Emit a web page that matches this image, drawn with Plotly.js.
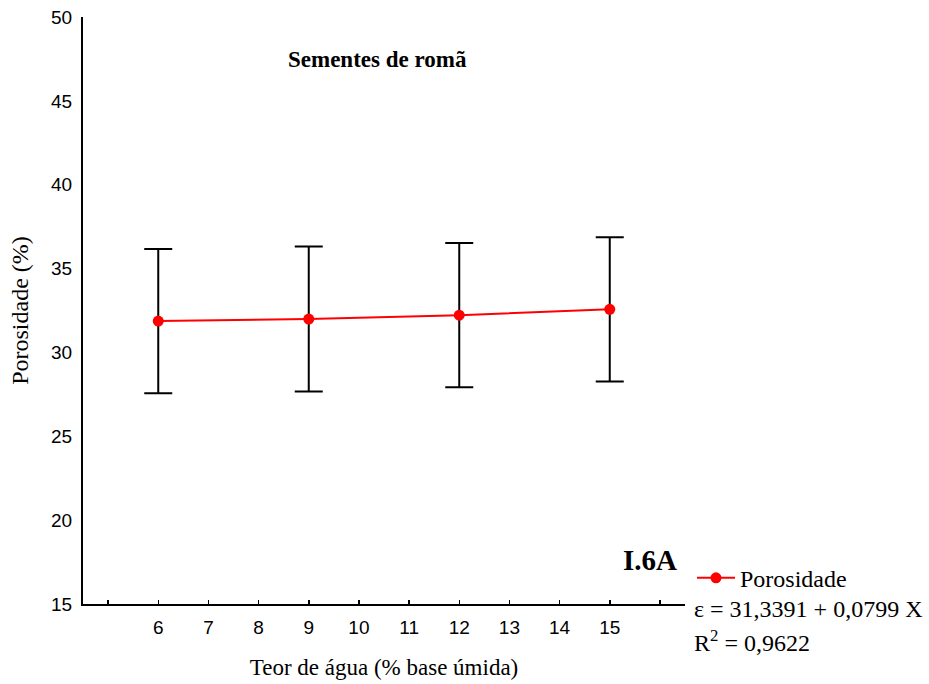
<!DOCTYPE html>
<html>
<head>
<meta charset="utf-8">
<script src="https://cdn.plot.ly/plotly-3.0.1.min.js"></script>
<style>
  html, body { margin: 0; padding: 0; background: #fff; }
  #chart { width: 929px; height: 684px; }
</style>
</head>
<body>
<div id="chart"></div>
<script>
// Porosity of pomegranate seeds vs. moisture content
const moisture = [6, 9, 12, 15];
const porosity = [31.87, 31.99, 32.22, 32.57];
const porosityErr = [4.3, 4.32, 4.3, 4.3];

const xTickVals = [6, 7, 8, 9, 10, 11, 12, 13, 14, 15];
const xTickText = ['6', '7', '8', '9', '10', '11', '12', '13', '14', '15'];
const yTickVals = [15, 20, 25, 30, 35, 40, 45, 50];

const serif = 'Liberation Serif, Times New Roman, serif';
const sans = 'Liberation Sans, Arial, sans-serif';

const trace = {
  x: moisture,
  y: porosity,
  type: 'scatter',
  mode: 'lines+markers',
  name: 'Porosidade',
  line: { color: '#ff0000', width: 2 },
  marker: { color: '#ff0000', size: 11 },
  error_y: {
    type: 'data',
    array: porosityErr,
    visible: true,
    color: '#000000',
    thickness: 2,
    width: 14
  }
};

const layout = {
  width: 929,
  height: 684,
  margin: { l: 83, r: 244, t: 17, b: 80 },
  paper_bgcolor: '#ffffff',
  plot_bgcolor: '#ffffff',
  showlegend: true,
  legend: {
    x: (692 - 83) / 602, y: 0.044, xanchor: 'left', yanchor: 'middle',
    font: { family: serif, size: 24, color: '#000' },
    bgcolor: 'rgba(0,0,0,0)',
    itemwidth: 38
  },
  xaxis: {
    range: [4.5, 16.5],
    tickmode: 'array',
    tickvals: xTickVals,
    ticktext: xTickText,
    ticks: 'inside',
    ticklen: 4,
    tickwidth: 1.5,
    tickcolor: '#000',
    minor: { dtick: 1, ticks: 'inside', ticklen: 4, tickwidth: 1.5, tickcolor: '#000', showgrid: false },
    ticklabelstandoff: 5,
    showgrid: false,
    zeroline: false,
    showline: true,
    linecolor: '#000',
    linewidth: 2,
    tickfont: { family: sans, size: 19, color: '#000' },
    title: {
      text: 'Teor de água (% base úmida)',
      font: { family: serif, size: 23, color: '#000' },
      standoff: 22
    }
  },
  yaxis: {
    range: [15, 50],
    tickvals: yTickVals,
    ticks: '',
    ticklabelstandoff: 5,
    showgrid: false,
    zeroline: false,
    showline: true,
    linecolor: '#000',
    linewidth: 2,
    tickfont: { family: sans, size: 19, color: '#000' },
    title: {
      text: 'Porosidade (%)',
      font: { family: serif, size: 24, color: '#000' },
      standoff: 16
    }
  },
  annotations: [
    {
      text: '<b>Sementes de romã</b>',
      xref: 'paper', yref: 'paper',
      x: (377 - 83) / 602, y: (604 - 60) / 587,
      xanchor: 'center', yanchor: 'middle',
      showarrow: false,
      font: { family: serif, size: 23, color: '#000' }
    },
    {
      text: '<b>I.6A</b>',
      xref: 'paper', yref: 'paper',
      x: (650 - 83) / 602, y: (604 - 560) / 587,
      xanchor: 'center', yanchor: 'middle',
      showarrow: false,
      font: { family: serif, size: 29, color: '#000' }
    },
    {
      text: 'ε = 31,3391 + 0,0799 X',
      xref: 'paper', yref: 'paper',
      x: (692 - 83) / 602, y: (604 - 609) / 587,
      xanchor: 'left', yanchor: 'middle',
      showarrow: false,
      font: { family: serif, size: 24, color: '#000' }
    },
    {
      text: 'R<sup>2</sup> = 0,9622',
      xref: 'paper', yref: 'paper',
      x: (692 - 83) / 602, y: (604 - 641) / 587,
      xanchor: 'left', yanchor: 'middle',
      showarrow: false,
      font: { family: serif, size: 24, color: '#000' }
    }
  ]
};

Plotly.newPlot('chart', [trace], layout, { displayModeBar: false, staticPlot: true });
</script>
</body>
</html>
